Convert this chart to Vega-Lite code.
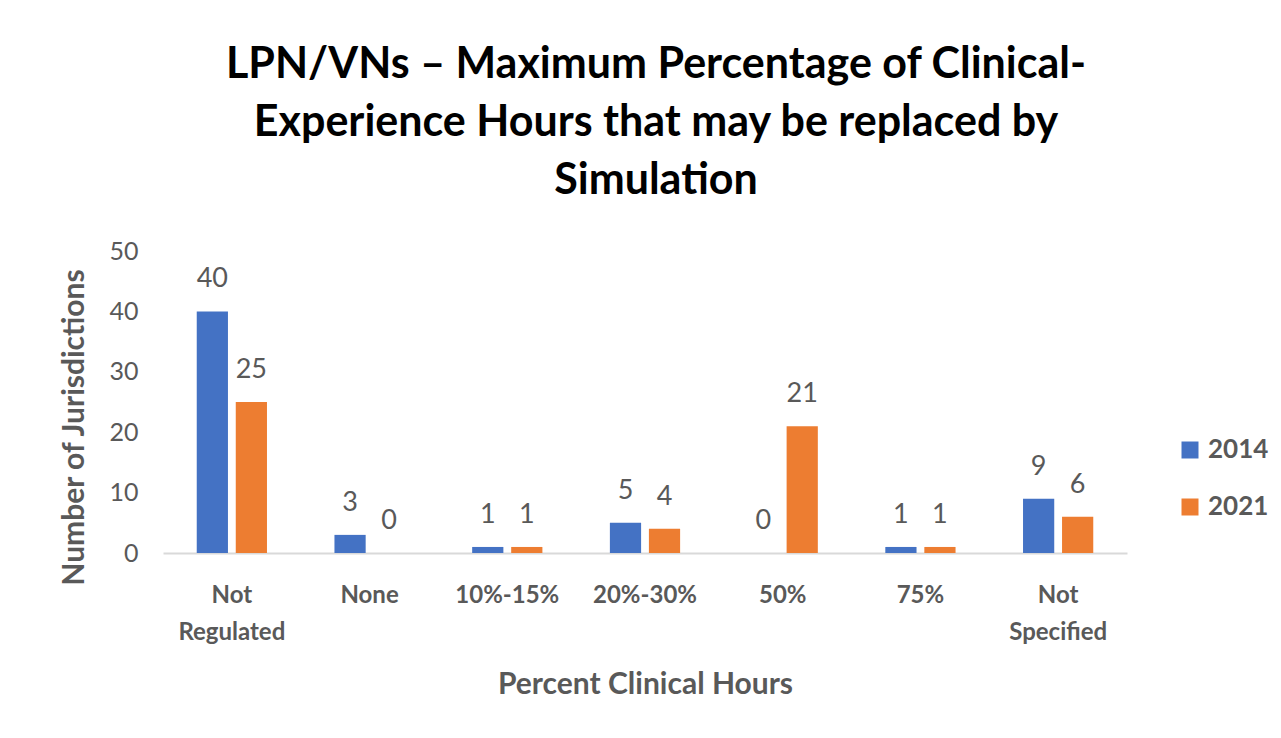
{
  "$schema": "https://vega.github.io/schema/vega-lite/v6.json",
  "width": 964,
  "height": 302,
  "autosize": {"type": "none"},
  "padding": {"left": 163, "top": 251, "right": 154, "bottom": 185},
  "background": "white",
  "title": {
    "text": ["LPN/VNs – Maximum Percentage of Clinical-", "Experience Hours that may be replaced by", "Simulation"],
    "font": "Lato",
    "fontSize": 43,
    "fontWeight": "bold",
    "color": "#000000",
    "lineHeight": 58,
    "anchor": "middle",
    "dx": 11,
    "offset": 36
  },
  "data": {
    "values": [
      {"category": "Not Regulated", "year": "2014", "count": 40},
      {"category": "Not Regulated", "year": "2021", "count": 25},
      {"category": "None", "year": "2014", "count": 3},
      {"category": "None", "year": "2021", "count": 0},
      {"category": "10%-15%", "year": "2014", "count": 1},
      {"category": "10%-15%", "year": "2021", "count": 1},
      {"category": "20%-30%", "year": "2014", "count": 5},
      {"category": "20%-30%", "year": "2021", "count": 4},
      {"category": "50%", "year": "2014", "count": 0},
      {"category": "50%", "year": "2021", "count": 21},
      {"category": "75%", "year": "2014", "count": 1},
      {"category": "75%", "year": "2021", "count": 1},
      {"category": "Not Specified", "year": "2014", "count": 9},
      {"category": "Not Specified", "year": "2021", "count": 6}
    ]
  },
  "encoding": {
    "x": {
      "field": "category",
      "type": "nominal",
      "sort": ["Not Regulated", "None", "10%-15%", "20%-30%", "50%", "75%", "Not Specified"],
      "scale": {"paddingInner": 0.49, "paddingOuter": 0.245},
      "axis": {
        "title": "Percent Clinical Hours",
        "labelAngle": 0,
        "labelExpr": "split(datum.label, ' ')",
        "labelFont": "Lato",
        "labelFontSize": 24,
        "labelFontWeight": "bold",
        "labelColor": "#595959",
        "labelLineHeight": 37,
        "labelPadding": 42,
        "labelBaseline": "middle",
        "ticks": false,
        "domainColor": "#d9d9d9",
        "domainWidth": 2,
        "titleFont": "Lato",
        "titleFontSize": 30,
        "titleFontWeight": "bold",
        "titleColor": "#595959",
        "titlePadding": 25
      }
    },
    "xOffset": {
      "field": "year",
      "type": "nominal",
      "scale": {"paddingInner": 0.2, "paddingOuter": 0}
    },
    "y": {
      "field": "count",
      "type": "quantitative",
      "scale": {"domain": [0, 50], "nice": false},
      "axis": {
        "title": "Number of Jurisdictions",
        "values": [0, 10, 20, 30, 40, 50],
        "grid": false,
        "domain": false,
        "ticks": false,
        "labelFont": "Lato",
        "labelFontSize": 25,
        "labelColor": "#595959",
        "labelPadding": 25,
        "titleFont": "Lato",
        "titleFontSize": 30,
        "titleFontWeight": "bold",
        "titleColor": "#595959",
        "titleX": -74,
        "titleY": 176
      }
    }
  },
  "layer": [
    {
      "mark": {"type": "bar"},
      "encoding": {
        "color": {
          "field": "year",
          "type": "nominal",
          "scale": {"domain": ["2014", "2021"], "range": ["#4472C4", "#ED7D31"]},
          "legend": {
            "title": null,
            "orient": "none",
            "legendX": 1014,
            "legendY": 186,
            "symbolType": "square",
            "symbolSize": 289,
            "symbolStrokeWidth": 0,
            "symbolOpacity": 1,
            "labelFont": "Lato",
            "labelFontSize": 26,
            "labelFontWeight": "bold",
            "labelColor": "#595959",
            "labelOffset": 5,
            "rowPadding": 31
          }
        }
      }
    },
    {
      "mark": {
        "type": "text",
        "baseline": "bottom",
        "dy": -18,
        "font": "Lato",
        "fontSize": 27,
        "color": "#595959"
      },
      "encoding": {
        "text": {"field": "count", "type": "quantitative"}
      }
    }
  ],
  "config": {
    "view": {"stroke": null}
  }
}
